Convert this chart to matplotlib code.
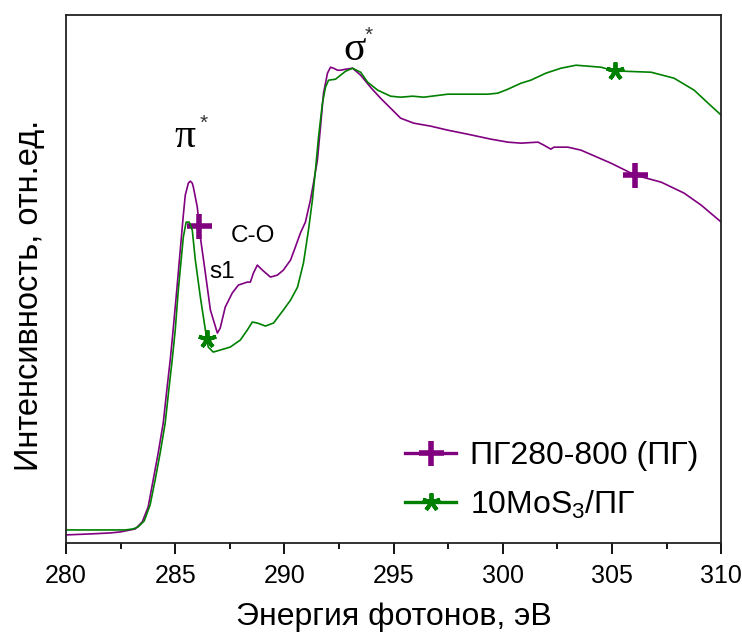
import numpy as np
import matplotlib
matplotlib.use("Agg")
import matplotlib.pyplot as plt

plt.rcParams['font.family'] = ['Liberation Sans', 'DejaVu Sans']
plt.rcParams['mathtext.fontset'] = 'custom'
plt.rcParams['mathtext.rm'] = 'Liberation Sans'
plt.rcParams['mathtext.it'] = 'Liberation Sans:italic'

# NEXAFS C K-edge spectra: photon energy (eV) and normalised intensity (a.u.)
energy_pg = [280.00, 281.10, 282.02, 282.48, 283.17, 283.49, 283.76, 283.99, 284.22,
             284.45, 284.63, 284.77, 284.86, 285.05, 285.23, 285.37, 285.46, 285.60,
             285.69, 285.78, 285.83, 286.01, 286.10, 286.15, 286.38, 286.61, 286.93,
             287.06, 287.29, 287.61, 287.89, 288.30, 288.44, 288.58, 288.76, 288.99,
             289.36, 289.68, 289.95, 290.28, 290.50, 290.73, 290.96, 291.19, 291.33,
             291.51, 291.65, 291.79, 291.97, 292.11, 292.25, 292.43, 292.57, 292.80,
             293.12, 293.49, 293.94, 294.40, 294.86, 295.32, 295.92, 296.70, 297.48,
             298.39, 299.45, 300.23, 300.83, 301.61, 301.88, 302.20, 302.34, 302.98,
             303.58, 304.95, 306.06, 307.25, 308.30, 309.08, 310.00]
intensity_pg = [1.52, 1.70, 1.89, 2.08, 2.65, 3.98, 6.82, 11.93, 17.05,
                22.73, 29.55, 34.66, 38.45, 46.97, 55.49, 62.12, 65.91, 68.18,
                68.56, 68.18, 67.42, 63.64, 60.00, 57.95, 51.14, 44.13, 39.77,
                40.72, 44.70, 47.35, 48.86, 49.43, 49.43, 51.14, 52.65, 51.70,
                50.38, 50.76, 51.70, 53.60, 56.06, 58.71, 60.80, 64.96, 68.18,
                72.54, 78.79, 85.23, 89.02, 90.15, 89.96, 89.58, 89.58, 89.77,
                89.96, 88.64, 86.36, 84.28, 82.39, 80.49, 79.55, 78.98, 78.22,
                77.46, 76.52, 75.95, 75.76, 75.95, 75.38, 74.62, 75.00, 75.00,
                74.43, 71.97, 69.70, 68.37, 66.29, 64.02, 60.80]

energy_mos = [280.00, 282.71, 283.07, 283.30, 283.58, 283.85, 284.08, 284.31, 284.54,
              284.72, 284.86, 285.00, 285.14, 285.37, 285.50, 285.64, 285.78, 285.92,
              286.15, 286.38, 286.45, 286.51, 286.74, 287.06, 287.52, 287.98, 288.30,
              288.53, 288.76, 289.13, 289.50, 289.95, 290.28, 290.60, 290.87, 291.10,
              291.28, 291.42, 291.56, 291.74, 291.88, 292.02, 292.34, 292.57, 292.80,
              293.12, 293.49, 293.81, 294.27, 294.86, 295.32, 295.87, 296.38, 297.48,
              299.31, 299.77, 300.23, 300.83, 301.28, 301.97, 302.66, 303.35, 304.50,
              305.14, 305.55, 306.79, 307.84, 308.76, 309.40, 310.00]
intensity_mos = [2.46, 2.46, 2.65, 3.03, 4.17, 7.20, 11.93, 17.05, 22.73,
                 29.55, 34.66, 40.34, 47.92, 57.95, 60.80, 60.80, 59.28, 53.60,
                 46.59, 40.34, 38.60, 37.12, 36.17, 36.55, 37.12, 38.45, 40.34,
                 41.86, 41.67, 41.10, 41.67, 44.13, 46.02, 48.48, 53.03, 59.28,
                 64.96, 70.64, 76.89, 83.33, 86.36, 87.69, 87.88, 88.64, 89.39,
                 89.96, 89.20, 87.31, 85.80, 84.66, 84.47, 84.66, 84.47, 85.04,
                 85.04, 85.23, 85.98, 87.12, 87.69, 89.02, 89.96, 90.53, 90.15,
                 89.39, 89.39, 89.20, 88.07, 85.80, 83.33, 81.06]

# energies where the series symbols are placed
marks_pg = [286.10, 306.06]
marks_mos = [286.45, 305.14]

labels = ['ПГ280-800 (ПГ)', '10MoS$_3$/ПГ']
purple = '#800080'
green = '#008000'


def mark_index(xs, marks):
    xs = np.asarray(xs)
    return [int(np.argmin(np.abs(xs - m))) for m in marks]


fig = plt.figure(figsize=(7.42, 6.35), dpi=100)
ax = fig.add_axes([0.089, 0.145, 0.883, 0.831])

ax.plot(energy_pg, intensity_pg, color=purple, lw=1.2, marker='+', ms=18, mew=4,
        markevery=mark_index(energy_pg, marks_pg), label=labels[0])
ax.plot(energy_mos, intensity_mos, color=green, lw=1.2, marker=(5, 2, 0), ms=13, mew=2.8,
        markevery=mark_index(energy_mos, marks_mos), label=labels[1])

ax.set_xlim(280, 310)
ax.set_ylim(0, 100)
ax.set_xticks(np.arange(280, 311, 5))
ax.set_xticks(np.arange(280, 311, 2.5), minor=True)
ax.set_yticks([])
ax.tick_params(axis='x', which='major', direction='out', length=8, width=1.3,
               labelsize=18, pad=7)
ax.tick_params(axis='x', which='minor', direction='out', length=4.5, width=1.3)
for sp in ax.spines.values():
    sp.set_linewidth(1.3)
    sp.set_color('#222222')

ax.set_xlabel('Энергия фотонов, эВ', fontsize=23, labelpad=10)
ax.set_ylabel('Интенсивность, отн.ед.', fontsize=23.5)
ax.yaxis.set_label_coords(-0.032, 0.47)

# peak annotations
greek = ['Liberation Serif', 'DejaVu Serif']
ax.text(285.46, 77.0, 'π', family=greek, fontsize=30, ha='center', va='center')
ax.text(286.3, 79.6, '*', fontsize=15, ha='center', va='center', color='#333333')
ax.text(293.2, 93.5, 'σ', family=greek, fontsize=30, ha='center', va='center')
ax.text(293.85, 96.1, '*', fontsize=15, ha='center', va='center', color='#333333')
ax.text(288.58, 58.1, 'C-O', fontsize=17.5, ha='center', va='center')
ax.text(287.16, 51.3, 's1', fontsize=17.5, ha='center', va='center')

leg = ax.legend(loc='lower right', bbox_to_anchor=(1.0, 0.0), frameon=False,
                fontsize=23, handlelength=1.6, handletextpad=0.45, labelspacing=0.55,
                borderaxespad=0.3)
for line in leg.get_lines():
    line.set_linewidth(2.4)

fig.savefig('out.png', dpi=100)
